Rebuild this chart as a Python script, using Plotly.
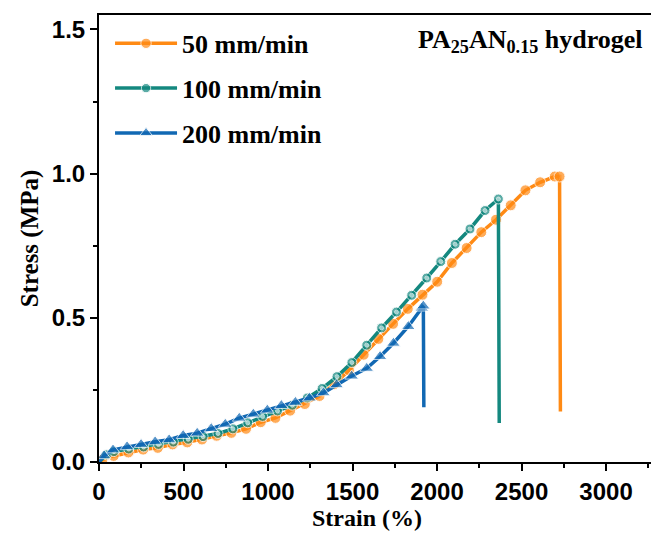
import plotly.graph_objects as go

# ---- data ----
strain_50 = [0, 20, 87, 174, 261, 348, 435, 522, 609, 696, 783, 870, 957, 1044, 1131,
             1218, 1305, 1392, 1479, 1566, 1653, 1740, 1827, 1914, 2001, 2088, 2175,
             2262, 2349, 2436, 2523, 2610, 2697, 2725, 2730]
stress_50 = [0, 0.008, 0.021, 0.033, 0.043, 0.049, 0.061, 0.068, 0.078, 0.091, 0.101,
             0.115, 0.138, 0.153, 0.178, 0.201, 0.229, 0.270, 0.318, 0.372, 0.427,
             0.479, 0.531, 0.580, 0.625, 0.690, 0.742, 0.797, 0.840, 0.890, 0.942,
             0.970, 0.990, 0.990, 0.175]

strain_100 = [0, 45, 88, 176, 264, 352, 440, 528, 616, 704, 792, 880, 968, 1056, 1144,
              1232, 1320, 1408, 1496, 1584, 1672, 1760, 1850, 1939, 2022, 2107, 2195,
              2284, 2363, 2368]
stress_100 = [0, 0.025, 0.036, 0.045, 0.052, 0.061, 0.069, 0.079, 0.088, 0.099, 0.115,
              0.136, 0.158, 0.177, 0.197, 0.222, 0.255, 0.296, 0.345, 0.405, 0.465,
              0.520, 0.578, 0.638, 0.695, 0.755, 0.808, 0.872, 0.912, 0.135]

strain_200 = [0, 30, 83, 166, 249, 332, 415, 498, 581, 664, 747, 830, 913, 996, 1079,
              1162, 1245, 1328, 1406, 1495, 1584, 1663, 1742, 1830, 1910, 1919, 1922]
stress_200 = [0, 0.022, 0.042, 0.053, 0.061, 0.070, 0.077, 0.092, 0.100, 0.116, 0.131,
              0.152, 0.166, 0.180, 0.196, 0.207, 0.222, 0.240, 0.268, 0.298, 0.325,
              0.366, 0.412, 0.470, 0.534, 0.541, 0.190]

series_names = ["50 mm/min", "100 mm/min", "200 mm/min"]
x_ticks = [0, 500, 1000, 1500, 2000, 2500, 3000]
y_ticks = [0.0, 0.5, 1.0, 1.5]

# ---- styles ----
C_ORANGE = "#FF8A14"
C_TEAL = "#14887F"
C_BLUE = "#1168B3"
SERIF = "Liberation Serif, Times New Roman, serif"
SANS = "Liberation Sans, Arial, sans-serif"


def sizes(n, s, skip_first=True):
    arr = [s] * n
    arr[-1] = 0
    if skip_first:
        arr[0] = 0
    return arr


fig = go.Figure()

fig.add_trace(go.Scatter(
    x=strain_50, y=stress_50, name=series_names[0], mode="lines+markers",
    line=dict(color=C_ORANGE, width=3.5),
    marker=dict(symbol="circle", size=sizes(len(strain_50), 11), color=C_ORANGE),
    legendgroup="a"))

fig.add_trace(go.Scatter(
    x=strain_100, y=stress_100, name=series_names[1], mode="lines+markers",
    line=dict(color=C_TEAL, width=3.5),
    marker=dict(symbol="circle", size=sizes(len(strain_100), 10), color=C_TEAL),
    legendgroup="b"))
fig.add_trace(go.Scatter(
    x=strain_100, y=stress_100, mode="markers", showlegend=False, hoverinfo="skip",
    marker=dict(symbol="circle", size=sizes(len(strain_100), 4), color="#d8f0ee"),
    legendgroup="b"))

fig.add_trace(go.Scatter(
    x=strain_200, y=stress_200, name=series_names[2], mode="lines+markers",
    line=dict(color=C_BLUE, width=3.5),
    marker=dict(symbol="triangle-up", size=sizes(len(strain_200), 12), color=C_BLUE),
    legendgroup="c"))

fig.add_annotation(
    text="PA<sub>25</sub>AN<sub>0.15</sub> hydrogel",
    xref="paper", yref="paper", x=0.99, y=0.983, xanchor="right", yanchor="top",
    showarrow=False, font=dict(family=SERIF, size=26, color="black", weight="bold"))

fig.add_annotation(
    text="Strain (%)", xref="paper", yref="paper", x=0.4855, y=-0.125,
    xanchor="center", yanchor="middle", showarrow=False,
    font=dict(family=SERIF, size=24, color="black", weight="bold"))

axis_common = dict(
    showgrid=False, zeroline=False, showline=True, linecolor="black", linewidth=2,
    ticks="outside", ticklen=7, tickwidth=2, tickcolor="black",
    tickfont=dict(family=SANS, size=24, color="black", weight="bold"),
)

fig.update_layout(
    width=651, height=538,
    margin=dict(l=99, r=0, t=15, b=76),
    paper_bgcolor="white", plot_bgcolor="white",
    showlegend=True,
    legend=dict(x=0.02, y=0.989, xanchor="left", yanchor="top",
                font=dict(family=SERIF, size=26, color="black", weight="bold"),
                bgcolor="rgba(0,0,0,0)", tracegroupgap=8, itemwidth=62),
    xaxis=dict(axis_common, range=[0, 3266], tickvals=x_ticks, mirror=True,
               minor=dict(ticks="outside", ticklen=4, tickwidth=2, tickcolor="black", dtick=250)),
    yaxis=dict(axis_common, range=[0, 1.55], tickvals=y_ticks, tickformat=".1f",
               minor=dict(ticks="outside", ticklen=4, tickwidth=2, tickcolor="black", dtick=0.25),
               title=dict(text="Stress (MPa)", standoff=6,
                          font=dict(family=SERIF, size=25, color="black", weight="bold"))),
)

fig.write_html("out.html")
